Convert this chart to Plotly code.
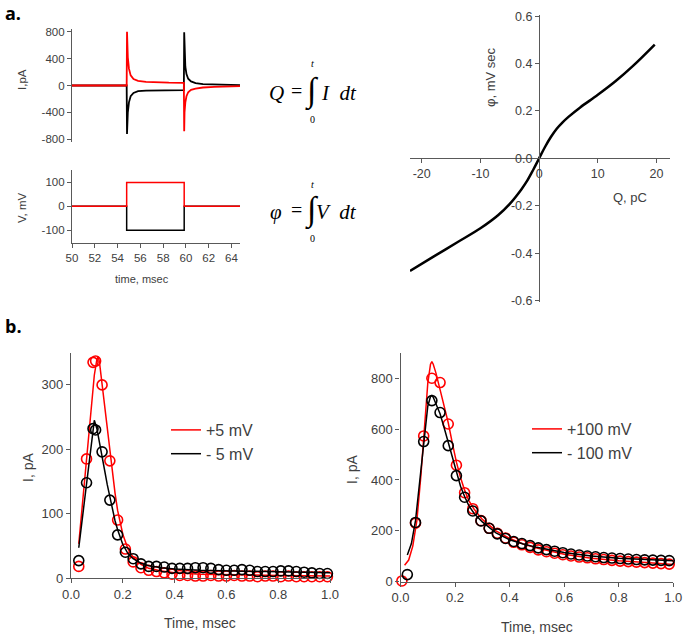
import plotly.graph_objects as go

W, H = 685, 637

# panel a, left: current and voltage records (msec, pA, mV)
rec_t = [50, 54.8, 54.83, 54.9, 55.0, 55.15, 55.4, 55.8, 56.5, 57.5, 58.5, 59.82,
         59.85, 59.88, 59.95, 60.05, 60.2, 60.45, 60.85, 61.5, 62.5, 64.75]
i_pos = [0, 0, 800, 420, 250, 150, 95, 70, 55, 45, 42, 40,
         -680, -400, -250, -160, -100, -65, -45, -30, -20, -10]
i_neg = [0, 0, -720, -400, -250, -160, -110, -85, -75, -70, -68, -68,
         790, 450, 280, 170, 100, 60, 35, 20, 12, 5]
step_t = [50, 54.8, 59.85, 64.75]
v_pos = [0, 100, 0, 0]
v_neg = [0, -100, 0, 0]

# panel a, right: flux vs charge
q_pc = [-22, -18, -14, -10, -7, -5, -3, -2, -1, 0, 1, 2, 3, 4, 5, 7, 10, 13, 16, 19.7]
phi = [-0.475, -0.415, -0.355, -0.295, -0.24, -0.192, -0.13, -0.093, -0.048, 0,
       0.048, 0.09, 0.125, 0.152, 0.175, 0.215, 0.268, 0.325, 0.39, 0.48]

# panel b, left: +/-5 mV
t5 = [0.03, 0.06, 0.085, 0.095, 0.12, 0.15, 0.18, 0.21, 0.24, 0.27, 0.30, 0.33,
      0.36, 0.39, 0.42, 0.45, 0.48, 0.51, 0.54, 0.57, 0.60, 0.63, 0.66, 0.69,
      0.72, 0.75, 0.78, 0.81, 0.84, 0.87, 0.90, 0.93, 0.96, 0.99]
pts5_pos = [18, 185, 335, 337, 300, 182, 90, 45, 25, 16, 12, 10, 8, 6, 4, 4, 3,
            3, 4, 3, 3, 4, 3, 3, 2, 3, 3, 2, 3, 2, 2, 2, 2, 2]
pts5_neg = [27, 148, 232, 230, 196, 121, 67, 40, 30, 22, 18, 18, 17, 15, 15, 15,
            16, 16, 15, 13, 12, 12, 13, 12, 10, 10, 10, 11, 11, 10, 9, 8, 7, 7]
fit5_t = [0.03, 0.04, 0.05, 0.06, 0.07, 0.08, 0.09, 0.10, 0.105, 0.11, 0.12, 0.13,
          0.14, 0.15, 0.16, 0.17, 0.18, 0.20, 0.22, 0.24, 0.27, 0.30, 0.35, 0.40,
          0.50, 0.60, 0.80, 1.0]
fit5_pos = [53, 95, 140, 185, 230, 275, 315, 340, 344, 335, 300, 265, 230, 195,
            163, 132, 105, 68, 45, 32, 21, 15, 11, 8, 6, 5, 4, 3]
fit5_neg = [47, 80, 115, 150, 185, 220, 245, 232, 222, 210, 190, 167, 145, 125,
            105, 89, 75, 52, 38, 30, 23, 19, 16, 14, 12, 11, 9, 8]

# panel b, right: +/-100 mV
t100_pos = [0.005, 0.055, 0.085, 0.115, 0.145, 0.175, 0.205, 0.235, 0.265, 0.295,
            0.325, 0.355, 0.385, 0.415, 0.445, 0.475, 0.505, 0.535, 0.565, 0.595,
            0.625, 0.655, 0.685, 0.715, 0.745, 0.775, 0.805, 0.835, 0.865, 0.895,
            0.925, 0.955, 0.985]
pts100_pos = [3, 230, 573, 800, 783, 620, 458, 350, 287, 240, 210, 190, 172, 155,
              145, 135, 125, 118, 112, 106, 101, 97, 94, 90, 87, 84, 81, 79, 77,
              75, 73, 71, 69]
t100_neg = [0.025, 0.055, 0.085, 0.115, 0.145, 0.175, 0.205, 0.235, 0.265, 0.295,
            0.325, 0.355, 0.385, 0.415, 0.445, 0.475, 0.505, 0.535, 0.565, 0.595,
            0.625, 0.655, 0.685, 0.715, 0.745, 0.775, 0.805, 0.835, 0.865, 0.895,
            0.925, 0.955, 0.985]
pts100_neg = [28, 233, 551, 712, 665, 535, 417, 332, 278, 239, 210, 188, 170, 158,
              150, 142, 133, 126, 120, 114, 109, 105, 101, 98, 95, 93, 91, 89, 87,
              86, 85, 84, 83]
fit100_pos_t = [0.015, 0.03, 0.045, 0.06, 0.075, 0.09, 0.1, 0.11, 0.115, 0.12, 0.13,
                0.145, 0.16, 0.175, 0.19, 0.205, 0.22, 0.235, 0.25, 0.27, 0.3, 0.35,
                0.4, 0.45, 0.5, 0.6, 0.7, 0.8, 0.9, 1.0]
fit100_pos = [65, 85, 140, 240, 420, 650, 780, 855, 865, 855, 820, 755, 690, 625,
              545, 470, 410, 360, 320, 285, 245, 200, 170, 148, 132, 108, 92, 82,
              75, 68]
fit100_neg_t = [0.025, 0.04, 0.055, 0.07, 0.085, 0.1, 0.11, 0.115, 0.12, 0.13, 0.145,
                0.16, 0.175, 0.19, 0.205, 0.22, 0.235, 0.25, 0.27, 0.3, 0.35, 0.4,
                0.45, 0.5, 0.6, 0.7, 0.8, 0.9, 1.0]
fit100_neg = [105, 150, 240, 390, 560, 690, 728, 732, 725, 700, 660, 605, 545, 485,
              425, 375, 335, 300, 268, 235, 192, 165, 148, 135, 115, 101, 92, 86, 82]

# tick labels (plain hyphen minus, as in the original)
i_ticks = [-800, -400, 0, 400, 800]
v_ticks = [-100, 0, 100]
time_ticks = [50, 52, 54, 56, 58, 60, 62, 64]
q_ticks = [-20, -10, 0, 10, 20]
phi_ticks = [-0.6, -0.4, -0.2, 0.0, 0.2, 0.4, 0.6]
tb_ticks = [0.0, 0.2, 0.4, 0.6, 0.8, 1.0]

RED = "#ff0000"
BLK = "#000000"
AX = "#595959"
TXT = "#404040"
SANS = "Liberation Sans, Arial, sans-serif"
SERIF = "Liberation Serif, Times New Roman, serif"


def xd(a, b):
    return [a / W, b / W]


def yd(top, bottom):
    return [1 - bottom / H, 1 - top / H]


def lbl(vals, fmt="{:g}"):
    return [fmt.format(v) for v in vals]


fig = go.Figure()

# a: current
fig.add_trace(go.Scatter(x=rec_t, y=i_neg, mode="lines", line=dict(color=BLK, width=1.8),
                         xaxis="x", yaxis="y", showlegend=False))
fig.add_trace(go.Scatter(x=rec_t, y=i_pos, mode="lines", line=dict(color=RED, width=1.8),
                         xaxis="x", yaxis="y", showlegend=False))
# a: voltage
fig.add_trace(go.Scatter(x=step_t, y=v_neg, mode="lines", line=dict(color=BLK, width=1.5, shape="hv"),
                         xaxis="x2", yaxis="y2", showlegend=False))
fig.add_trace(go.Scatter(x=step_t, y=v_pos, mode="lines", line=dict(color=RED, width=1.5, shape="hv"),
                         xaxis="x2", yaxis="y2", showlegend=False))
# a: phi vs Q
fig.add_trace(go.Scatter(x=q_pc, y=phi, mode="lines", line=dict(color=BLK, width=2.5, shape="spline"),
                         xaxis="x3", yaxis="y3", showlegend=False))

# b left
fig.add_trace(go.Scatter(x=t5, y=pts5_pos, mode="markers", xaxis="x4", yaxis="y4", showlegend=False,
                         marker=dict(symbol="circle-open", size=10, color=RED, line=dict(width=1.6)),
                         cliponaxis=False))
fig.add_trace(go.Scatter(x=fit5_t, y=fit5_pos, mode="lines", name="+5 mV", xaxis="x4", yaxis="y4",
                         line=dict(color=RED, width=1.5), legend="legend"))
fig.add_trace(go.Scatter(x=t5, y=pts5_neg, mode="markers", xaxis="x4", yaxis="y4", showlegend=False,
                         marker=dict(symbol="circle-open", size=10, color=BLK, line=dict(width=1.6)),
                         cliponaxis=False))
fig.add_trace(go.Scatter(x=fit5_t, y=fit5_neg, mode="lines", name="- 5 mV", xaxis="x4", yaxis="y4",
                         line=dict(color=BLK, width=1.5), legend="legend"))

# b right
fig.add_trace(go.Scatter(x=t100_pos, y=pts100_pos, mode="markers", xaxis="x5", yaxis="y5", showlegend=False,
                         marker=dict(symbol="circle-open", size=10, color=RED, line=dict(width=1.6)),
                         cliponaxis=False))
fig.add_trace(go.Scatter(x=fit100_pos_t, y=fit100_pos, mode="lines", name="+100 mV", xaxis="x5", yaxis="y5",
                         line=dict(color=RED, width=1.5), legend="legend2"))
fig.add_trace(go.Scatter(x=t100_neg, y=pts100_neg, mode="markers", xaxis="x5", yaxis="y5", showlegend=False,
                         marker=dict(symbol="circle-open", size=10, color=BLK, line=dict(width=1.6)),
                         cliponaxis=False))
fig.add_trace(go.Scatter(x=fit100_neg_t, y=fit100_neg, mode="lines", name="- 100 mV", xaxis="x5", yaxis="y5",
                         line=dict(color=BLK, width=1.5), legend="legend2"))


def ax(**kw):
    base = dict(showline=True, linecolor=AX, linewidth=1.2, ticks="outside", ticklen=4,
                tickcolor=AX, showgrid=False, zeroline=False, automargin=False,
                tickfont=dict(family=SANS, size=13, color=TXT))
    base.update(kw)
    return base


small = dict(family=SANS, size=11.5, color=TXT)
mid = dict(family=SANS, size=12.5, color=TXT)

fig.update_layout(
    width=W, height=H, margin=dict(l=0, r=0, t=0, b=0, autoexpand=False),
    paper_bgcolor="white", plot_bgcolor="rgba(0,0,0,0)", hovermode=False,
    xaxis=dict(domain=xd(72, 240), range=[50, 64.75], visible=False, anchor="y", automargin=False),
    yaxis=ax(domain=yd(29, 142), range=[-840, 840], tickvals=i_ticks, ticktext=lbl(i_ticks),
             anchor="x", tickfont=small),
    xaxis2=ax(domain=xd(72, 240), range=[50, 64.75], tickvals=time_ticks, ticktext=lbl(time_ticks),
              anchor="y2", tickfont=small),
    yaxis2=ax(domain=yd(170, 242.7), range=[-152, 152], tickvals=v_ticks, ticktext=lbl(v_ticks),
              anchor="x2", tickfont=small),
    xaxis3=ax(domain=xd(410, 670), range=[-22, 22.3], tickvals=q_ticks, ticktext=lbl(q_ticks),
              anchor="free", position=1 - 158.35 / H, tickfont=mid),
    yaxis3=ax(domain=yd(15, 301.7), range=[-0.605, 0.605], tickvals=phi_ticks,
              ticktext=lbl(phi_ticks, "{:.1f}"), anchor="free", position=539.1 / W, tickfont=mid),
    xaxis4=ax(domain=xd(71, 330), range=[0, 1.0], tickvals=tb_ticks, ticktext=lbl(tb_ticks, "{:.1f}"),
              anchor="y4"),
    yaxis4=ax(domain=yd(352.7, 578), range=[0, 350], tickvals=[0, 100, 200, 300], anchor="x4"),
    xaxis5=ax(domain=xd(400.5, 673.3), range=[0, 1.0], tickvals=tb_ticks, ticktext=lbl(tb_ticks, "{:.1f}"),
              anchor="y5"),
    yaxis5=ax(domain=yd(353.3, 581.7), range=[0, 898], tickvals=[0, 200, 400, 600, 800], anchor="x5"),
    legend=dict(x=166 / W, y=1 - 413 / H, xanchor="left", yanchor="top", bgcolor="rgba(0,0,0,0)",
                font=dict(family=SANS, size=16, color=TXT), itemwidth=30),
    legend2=dict(x=527 / W, y=1 - 412 / H, xanchor="left", yanchor="top", bgcolor="rgba(0,0,0,0)",
                 font=dict(family=SANS, size=16, color=TXT), itemwidth=30),
)

notes = [
    # panel letters
    dict(x=3, y=13, text="<b>a.</b>", size=18, family="Open Sans, sans-serif", color="#000", xanchor="left"),
    dict(x=3, y=326, text="<b>b.</b>", size=18, family="Open Sans, sans-serif", color="#000", xanchor="left"),
    # axis titles
    dict(x=22, y=80, text="I,pA", size=11.5, angle=-90),
    dict(x=22, y=208, text="V, mV", size=11.5, angle=-90),
    dict(x=142, y=279, text="time, msec", size=11),
    dict(x=490, y=78, text="φ, mV sec", size=13, angle=-90),
    dict(x=630, y=197, text="Q, pC", size=13),
    dict(x=28, y=468, text="I, pA", size=14, angle=-90),
    dict(x=200, y=623, text="Time, msec", size=14),
    dict(x=352, y=470, text="I, pA", size=14, angle=-90),
    dict(x=537, y=627, text="Time, msec", size=14),
    # equations
    dict(x=276, y=93, text="<i>Q</i>", size=21, family=SERIF, color="#000"),
    dict(x=296, y=91, text="=", size=20, family=SERIF, color="#000"),
    dict(x=312, y=91, text="∫", size=34, family=SERIF, color="#000"),
    dict(x=312, y=64, text="<i>t</i>", size=10, family=SERIF, color="#000"),
    dict(x=312, y=119, text="0", size=10, family=SERIF, color="#000"),
    dict(x=339, y=93, text="<i>I</i>  <i>dt</i>", size=21, family=SERIF, color="#000"),
    dict(x=276, y=212, text="<i>φ</i>", size=21, family=SERIF, color="#000"),
    dict(x=296, y=210, text="=", size=20, family=SERIF, color="#000"),
    dict(x=312, y=210, text="∫", size=34, family=SERIF, color="#000"),
    dict(x=312, y=184, text="<i>t</i>", size=10, family=SERIF, color="#000"),
    dict(x=312, y=238, text="0", size=10, family=SERIF, color="#000"),
    dict(x=336, y=212, text="<i>V</i>  <i>dt</i>", size=21, family=SERIF, color="#000"),
]
for n in notes:
    fig.add_annotation(x=n["x"] / W, y=1 - n["y"] / H, xref="paper", yref="paper",
                       text=n["text"], showarrow=False, textangle=n.get("angle", 0),
                       xanchor=n.get("xanchor", "center"), yanchor="middle",
                       font=dict(family=n.get("family", SANS), size=n["size"], color=n.get("color", TXT)))

# the page body has a default 8px margin; drop it so the figure sits at the window origin
fig.write_html("out.html", config={"displayModeBar": False},
               post_script="document.body.style.margin='0';")
